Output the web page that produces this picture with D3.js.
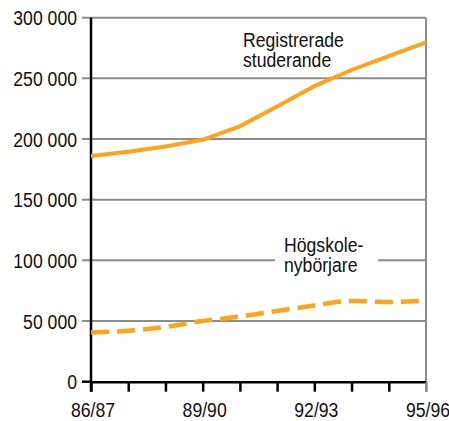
<!DOCTYPE html>
<html>
<head>
<meta charset="utf-8">
<script src="https://cdn.jsdelivr.net/npm/d3@7"></script>
<style>
  body { margin: 0; background: #fff; }
  svg { display: block; font-family: 'Liberation Sans', Arial, sans-serif; }
</style>
</head>
<body>
<svg id="chart"></svg>
<script>
const years = ['86/87', '87/88', '88/89', '89/90', '90/91', '91/92', '92/93', '93/94', '94/95', '95/96'];
const yearLabels = ['86/87', '89/90', '92/93', '95/96'];
const registrerade = [186000, 189600, 193800, 199400, 210500, 226800, 243600, 256900, 268400, 279700];
const nyborjare = [40500, 42000, 45100, 50000, 53700, 58300, 62800, 66500, 65700, 66700];
const yTicks = [0, 50000, 100000, 150000, 200000, 250000, 300000];

const width = 449;
const height = 421;
const margin = { top: 17.7, right: 23, bottom: 39.3, left: 91 };
const orange = '#ffa41a';
const grid = '#8c8c8c';
const narrow = 0.84; // the original face is condensed

const svg = d3.select('#chart').attr('width', width).attr('height', height);

const x = d3
  .scalePoint()
  .domain(years)
  .range([margin.left, width - margin.right]);
const y = d3
  .scaleLinear()
  .domain([0, 300000])
  .range([height - margin.bottom, margin.top]);

const fmt = d3.formatLocale({ decimal: ',', thousands: ' ', grouping: [3], currency: ['', ''] }).format(',d');

function label(g, tx, ty, lines, anchor, lineHeight) {
  const t = g
    .append('text')
    .attr('transform', `translate(${tx},${ty}) scale(${narrow},1)`)
    .attr('text-anchor', anchor)
    .attr('font-size', 21)
    .attr('fill', '#111');
  t.selectAll('tspan')
    .data(lines)
    .join('tspan')
    .attr('x', 0)
    .attr('y', (d, i) => i * (lineHeight || 0))
    .text((d) => d);
  return t;
}

// gridlines (gray), extend a little left of the axis
svg
  .append('g')
  .selectAll('line')
  .data(yTicks.filter((d) => d > 0))
  .join('line')
  .attr('x1', margin.left - 9)
  .attr('x2', width - margin.right)
  .attr('y1', (d) => y(d))
  .attr('y2', (d) => y(d))
  .attr('stroke', grid)
  .attr('stroke-width', 2);

// right border
svg
  .append('line')
  .attr('x1', width - margin.right)
  .attr('x2', width - margin.right)
  .attr('y1', y(300000))
  .attr('y2', y(0) + 10)
  .attr('stroke', grid)
  .attr('stroke-width', 2);

// y labels
const yLab = svg.append('g');
yTicks.forEach((d) => label(yLab, margin.left - 14, y(d) + 7.5, [fmt(d)], 'end'));

// x axis
const xAxis = svg
  .append('g')
  .attr('transform', `translate(0,${y(0)})`)
  .call(d3.axisBottom(x).tickSize(10).tickSizeOuter(0).tickFormat(() => ''));
xAxis.select('.domain').attr('stroke', '#000').attr('stroke-width', 2.5);
xAxis.selectAll('.tick line').attr('stroke', (d, i) => (i === years.length - 1 ? grid : '#000')).attr('stroke-width', 2.5);

const xLab = svg.append('g');
yearLabels.forEach((d) => label(xLab, x(d) + 2, y(0) + 35, [d], 'middle'));

// zero tick + y axis line
svg
  .append('line')
  .attr('x1', margin.left - 9)
  .attr('x2', margin.left)
  .attr('y1', y(0))
  .attr('y2', y(0))
  .attr('stroke', '#000')
  .attr('stroke-width', 2.5);
svg
  .append('line')
  .attr('x1', margin.left)
  .attr('x2', margin.left)
  .attr('y1', y(300000))
  .attr('y2', y(0) + 10)
  .attr('stroke', '#000')
  .attr('stroke-width', 2.5);

// label for new students, white box hides gridline
const lab2 = svg.append('g');
lab2
  .append('rect')
  .attr('x', 275)
  .attr('y', 232)
  .attr('width', 103)
  .attr('height', 48)
  .attr('fill', '#fff');
label(lab2, 284, 251.5, ['Högskole-', 'nybörjare'], 'start', 20.5);

label(svg, 243, 46.5, ['Registrerade', 'studerande'], 'start', 20.5);

// lines
const line = d3
  .line()
  .x((d, i) => x(years[i]))
  .y((d) => y(d));

svg
  .append('path')
  .datum(registrerade)
  .attr('fill', 'none')
  .attr('stroke', orange)
  .attr('stroke-width', 4)
  .attr('d', line);

svg
  .append('path')
  .datum(nyborjare)
  .attr('fill', 'none')
  .attr('stroke', orange)
  .attr('stroke-width', 4.5)
  .attr('stroke-dasharray', '18 8')
  .attr('d', line.curve(d3.curveMonotoneX));
</script>
</body>
</html>
